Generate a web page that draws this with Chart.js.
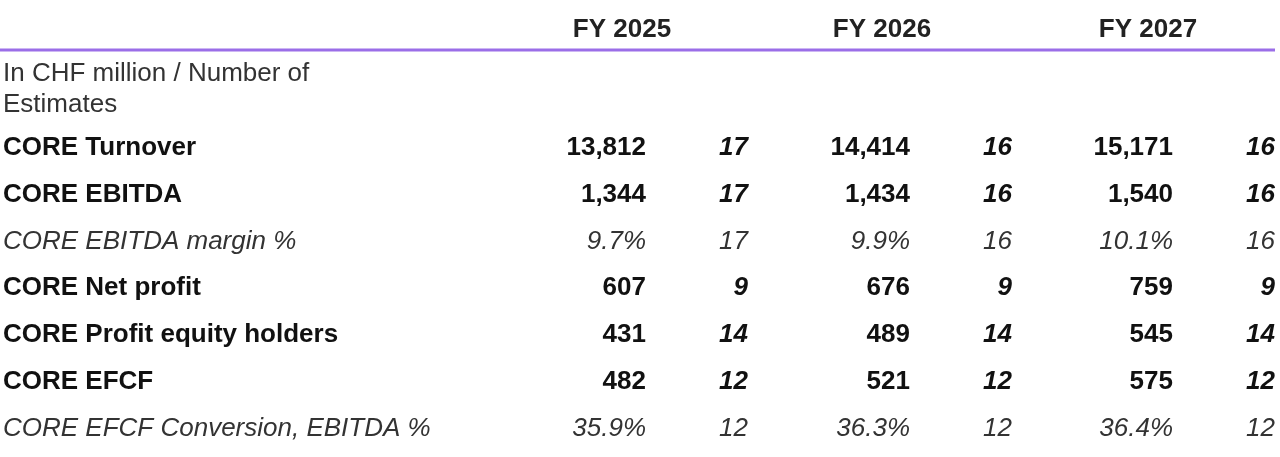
<!DOCTYPE html>
<html>
<head>
<meta charset="utf-8">
<script src="https://cdn.jsdelivr.net/npm/chart.js@4"></script>
<style>
  html, body { margin: 0; padding: 0; background: #fff; }
  #wrap { width: 1280px; height: 457px; }
</style>
</head>
<body>
<div id="wrap"><canvas id="tabela"></canvas></div>
<script>
// Dados da tabela
const anos = ['FY 2025', 'FY 2026', 'FY 2027'];
const linhas = ['CORE Turnover', 'CORE EBITDA', 'CORE EBITDA margin %', 'CORE Net profit',
    'CORE Profit equity holders', 'CORE EFCF', 'CORE EFCF Conversion, EBITDA %'];
const valores2025 = ['13,812', '1,344', '9.7%', '607', '431', '482', '35.9%'];
const valores2026 = ['14,414', '1,434', '9.9%', '676', '489', '521', '36.3%'];
const valores2027 = ['15,171', '1,540', '10.1%', '759', '545', '575', '36.4%'];
const estimativas2025 = [17, 17, 17, 9, 14, 12, 12];
const estimativas2026 = [16, 16, 16, 9, 14, 12, 12];
const estimativas2027 = [16, 16, 16, 9, 14, 12, 12];
const linhasItalico = [2, 6];
const unidade = ['In CHF million / Number of', 'Estimates'];

// Posições das colunas (alinhamento à direita) e do cabeçalho
const colValores = [646, 910, 1173];
const colEstimativas = [748, 1012, 1275];
const colCabecalho = [622, 882, 1148];
const FONTE = '"Liberation Sans", Arimo, Helvetica, Arial, sans-serif';

const desenharTabela = {
    id: 'desenharTabela',
    afterDraw(chart) {
        const ctx = chart.ctx;
        const x = chart.scales.x, y = chart.scales.y;
        ctx.save();
        ctx.textBaseline = 'middle';

        // Cabeçalho
        ctx.font = 'bold 26px ' + FONTE;
        ctx.fillStyle = '#222';
        ctx.textAlign = 'center';
        anos.forEach((a, i) => ctx.fillText(a, x.getPixelForValue(colCabecalho[i]), y.getPixelForValue(-2.52)));

        // Linha roxa
        ctx.strokeStyle = '#9b6ee8';
        ctx.lineWidth = 3;
        ctx.beginPath();
        const yl = y.getPixelForValue(-2.09);
        ctx.moveTo(x.getPixelForValue(0), yl);
        ctx.lineTo(x.getPixelForValue(1275), yl);
        ctx.stroke();

        // Unidade
        ctx.font = '26px ' + FONTE;
        ctx.fillStyle = '#333';
        ctx.textAlign = 'left';
        ctx.fillText(unidade[0], x.getPixelForValue(3), y.getPixelForValue(-1.58));
        ctx.fillText(unidade[1], x.getPixelForValue(3), y.getPixelForValue(-0.92));

        const vals = [valores2025, valores2026, valores2027];
        const ests = [estimativas2025, estimativas2026, estimativas2027];
        linhas.forEach((nome, k) => {
            const it = linhasItalico.includes(k);
            const py = y.getPixelForValue(k);
            ctx.fillStyle = it ? '#333' : '#111';
            ctx.textAlign = 'left';
            ctx.font = (it ? 'italic ' : 'bold ') + '26px ' + FONTE;
            ctx.fillText(nome, x.getPixelForValue(3), py);
            ctx.textAlign = 'right';
            for (let c = 0; c < 3; c++) {
                ctx.font = (it ? 'italic ' : 'bold ') + '26px ' + FONTE;
                ctx.fillText(vals[c][k], x.getPixelForValue(colValores[c]), py);
                ctx.font = (it ? 'italic ' : 'italic bold ') + '26px ' + FONTE;
                ctx.fillText(String(ests[c][k]), x.getPixelForValue(colEstimativas[c]), py);
            }
        });
        ctx.restore();
    }
};

new Chart(document.getElementById('tabela'), {
    type: 'scatter',
    data: { datasets: [{ data: [], pointRadius: 0 }] },
    options: {
        responsive: true,
        maintainAspectRatio: false,
        animation: false,
        layout: { padding: 0 },
        plugins: { legend: { display: false }, tooltip: { enabled: false } },
        scales: {
            x: { type: 'linear', min: 0, max: 1280, display: false },
            y: { type: 'linear', min: -3.16, max: 6.61, reverse: true, display: false }
        }
    },
    plugins: [desenharTabela]
});
</script>
</body>
</html>
